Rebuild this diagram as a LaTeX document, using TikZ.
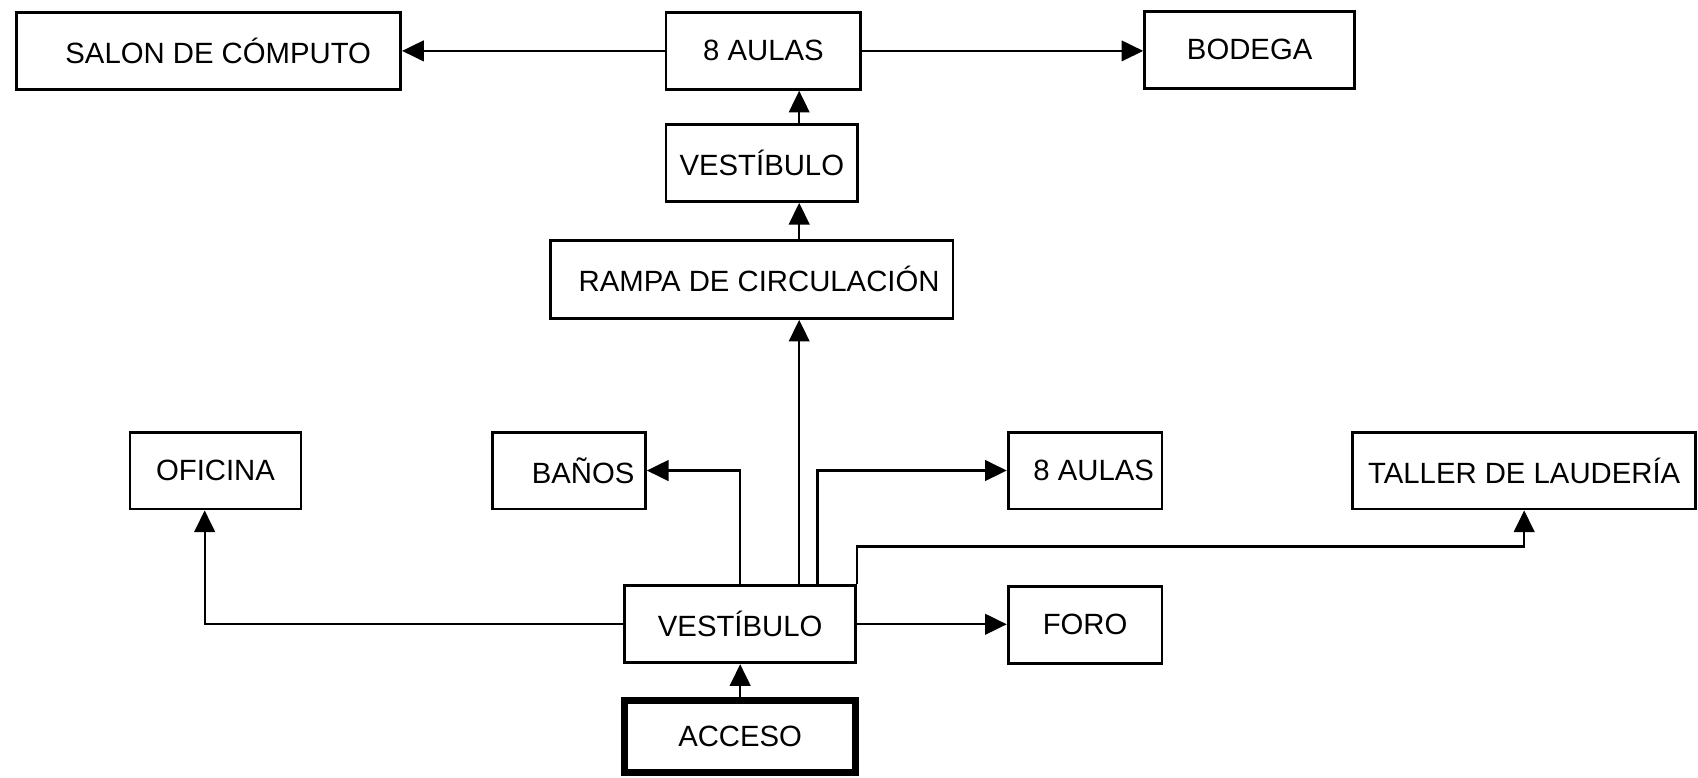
\documentclass[tikz,border=0pt]{standalone}
\usepackage{fontspec}
\setmainfont{Liberation Sans}
\usepackage{tikz}
\usetikzlibrary{arrows.meta}

\tikzset{
  caja/.style={draw, line width=0.75pt, inner sep=0pt, minimum height=0.71cm, font=\fontsize{7.7}{9}\selectfont},
  flecha/.style={line width=0.6pt, -{Triangle[length=2mm,width=1.9mm]}},
  linea/.style={line width=0.6pt}
}

\begin{document}
\begin{tikzpicture}[x=0.1mm,y=-0.1mm]
\useasboundingbox (0,0) rectangle (1568,718);
\node [caja, minimum width=3.55cm] (salon) at (192.5,47) {\hspace*{0.18cm}SALON DE CÓMPUTO};
\node [caja, minimum width=1.80cm] (aulasA) at (705,47) {8 AULAS};
\node [caja, minimum width=1.94cm] (bodega) at (1154,46) {BODEGA};
\node [caja, minimum width=1.77cm] (vestA) at (703.5,150.5) {VESTÍBULO};
\node [caja, minimum width=3.72cm, minimum height=0.72cm] (rampa) at (694,258) {\hspace*{0.14cm}RAMPA DE CIRCULACIÓN};
\node [caja, minimum width=1.58cm] (oficina) at (199,434.5) {OFICINA};
\node [caja, minimum width=1.41cm] (banos) at (525.5,434.5) {\hspace*{0.26cm}BAÑOS};
\node [caja, minimum width=1.42cm] (aulasB) at (1002,434.5) {\hspace*{0.16cm}8 AULAS};
\node [caja, minimum width=3.17cm] (taller) at (1407.5,434.5) {TALLER DE LAUDERÍA};
\node [caja, minimum width=2.13cm] (vestB) at (683.5,576.5) {VESTÍBULO};
\node [caja, minimum width=1.42cm] (foro) at (1002,577) {FORO};
\node [caja, minimum width=2.13cm, minimum height=0.67cm, line width=1.8pt] (acceso) at (683.5,680) {ACCESO};
\coordinate (eje) at (738,0);
\coordinate (eje2) at (755,0);
\draw [flecha] (aulasA.west) -- (salon.east);
\draw [flecha] (aulasA.east) -- (aulasA.east -| bodega.west);
\draw [flecha] (vestA.north -| eje) -- (aulasA.south -| eje);
\draw [flecha] (rampa.north -| eje) -- (vestA.south -| eje);
\draw [flecha] (vestB.north -| eje) -- (rampa.south -| eje);
\draw [flecha] (vestB.north) |- (banos.east);
\draw [flecha] (vestB.north -| eje2) |- (aulasB.west);
\draw [flecha] (vestB.north east) -- ++(0,-35) -| (taller.south);
\draw [flecha] (vestB.west) -| ([xshift=-1mm]oficina.south);
\draw [flecha] (vestB.east) -- (vestB.east -| foro.west);
\draw [flecha] (acceso.north) -- (vestB.south);
\end{tikzpicture}
\end{document}
